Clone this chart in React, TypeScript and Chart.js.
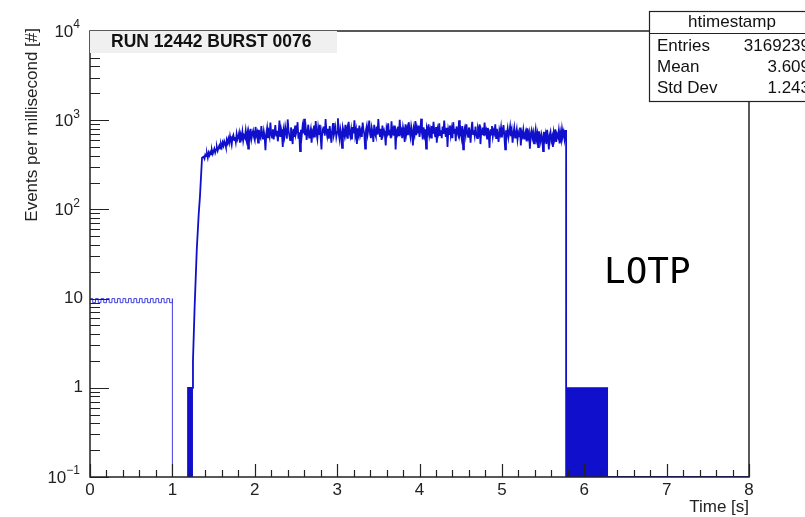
import React, { useEffect, useRef } from "react";
import { Chart, registerables } from "chart.js";

Chart.register(...registerables);

// ---- data ----
const X_TICK_VALUES = [0, 1, 2, 3, 4, 5, 6, 7, 8];
const X_TICK_LABELS = ["0", "1", "2", "3", "4", "5", "6", "7", "8"];
const Y_TICK_VALUES = [0.1, 1, 10, 100, 1000, 10000];
const Y_TICK_BASE = ["10", "1", "10", "10", "10", "10"];
const Y_TICK_EXP = ["\u22121", "", "", "2", "3", "4"];

// 0 - 1 s: bins alternating (events per ms)
const LOW_BIN_WIDTH = 1 / 30;
const LOW_VALUES = [10, 9, 10, 9, 10, 9, 10, 9, 10, 9, 10, 9, 10, 9, 10, 9, 10, 9, 10, 9, 10, 9, 10, 9, 10, 9, 10, 9, 10, 9];

// rise of the spill
const RISE_T = [1.19, 1.19, 1.25, 1.25, 1.27, 1.296, 1.32, 1.335, 1.36];
const RISE_V = [0.1, 1, 1, 2, 8, 35, 90, 140, 380];

// plateau, 1.38 s ... 5.77 s in 0.01 s bins
const PLATEAU_START = 1.38;
const PLATEAU_STEP = 0.01;
const PLATEAU_V = [
  390, 370, 410, 395, 420, 380, 430, 405, 440, 415,
  460, 420, 450, 480, 435, 470, 500, 455, 490, 520,
  480, 540, 500, 560, 520, 580, 545, 500, 600, 555,
  620, 560, 660, 590, 530, 640, 680, 600, 650, 570,
  700, 610, 650, 720, 560, 690, 630, 740, 590, 670,
  640, 760, 610, 700, 480, 720, 650, 800, 620, 700,
  760, 650, 600, 840, 680, 730, 560, 780, 660, 630,
  860, 690, 610, 750, 650, 460, 710, 820, 630, 740,
  660, 940, 700, 640, 790, 610, 730, 880, 670, 760,
  580, 720, 990, 650, 790, 700, 500, 760, 660, 840,
  730, 620, 1020, 770, 670, 600, 830, 700, 540, 800,
  650, 870, 700, 760, 950, 620, 730, 450, 780, 670,
  840, 710, 1040, 680, 790, 600, 740, 890, 640, 700,
  790, 560, 740, 690, 870, 640, 980, 720, 620, 820,
  700, 890, 650, 470, 780, 730, 850, 670, 1030, 750,
  660, 800, 620, 860, 700, 560, 760, 930, 680, 740,
  830, 650, 740, 1050, 700, 610, 800, 720, 490, 820,
  750, 670, 890, 700, 790, 620, 960, 730, 660, 780,
  610, 840, 710, 1000, 680, 770, 540, 810, 700, 870,
  680, 750, 650, 940, 780, 700, 480, 770, 860, 690,
  800, 990, 700, 630, 820, 730, 570, 890, 710, 660,
  850, 690, 1030, 750, 650, 800, 600, 870, 700, 760,
  680, 520, 810, 730, 920, 690, 780, 630, 970, 720,
  790, 670, 870, 470, 750, 700, 850, 660, 1010, 720,
  770, 630, 830, 730, 570, 900, 700, 800, 680, 950,
  740, 650, 850, 750, 520, 790, 700, 980, 680, 810,
  710, 870, 650, 770, 1040, 720, 610, 830, 690, 790,
  480, 800, 730, 900, 680, 770, 640, 860, 700, 960,
  750, 660, 840, 560, 790, 720, 920, 680, 770, 630,
  850, 700, 990, 740, 650, 820, 500, 780, 700, 870,
  680, 790, 630, 950, 720, 800, 580, 850, 730, 680,
  1000, 700, 770, 650, 860, 470, 750, 820, 690, 900,
  720, 650, 830, 740, 560, 790, 960, 700, 770, 670,
  850, 690, 630, 800, 730, 900, 540, 760, 700, 830,
  670, 940, 720, 770, 620, 820, 700, 490, 790, 690,
  860, 660, 760, 710, 900, 630, 800, 680, 570, 770,
  700, 830, 640, 740, 880, 670, 470, 770, 690, 800,
  640, 730, 850, 660, 760, 560, 710, 820, 640, 700,
  790, 610, 720, 660, 830, 520, 730, 670, 780, 620,
  690, 750, 580, 810, 650, 720, 480, 700, 770, 640,
  720, 550, 680, 790, 620, 700, 500, 750, 650, 580,
  700, 640, 450, 740, 610, 690, 540, 780, 640, 470,
  680, 740, 590, 650, 500, 720, 630, 790, 570, 690,
  650, 760, 550, 710, 610, 790, 670, 740, 620, 760,
];

// end of spill and tail
const FALL_T = [5.78, 5.78, 8];
const FALL_V = [760, 0.1, 0.1];

// filled single-count bins
const BAR1_T = [1.19, 1.25];
const BAR1_V = [1, 1];
const BAR2_T = [5.78, 6.29];
const BAR2_V = [1, 1];

const STATS_NAMES = ["Entries", "Mean", "Std Dev"];
const STATS_VALUES = ["3169239", "3.609", "1.243"];

const FONT = "'Liberation Sans', Arial, Helvetica, sans-serif";
const BLUE = "#0f0fcc";

const decorPlugin = {
  id: "rootDecor",
  afterDraw(chart: any) {
    const ctx = chart.ctx as CanvasRenderingContext2D;
    const xs = chart.scales.x;
    const ys = chart.scales.y;
    const { left, right, top, bottom } = chart.chartArea;
    ctx.save();

    // ticks
    ctx.strokeStyle = "#222";
    ctx.lineWidth = 1.2;
    ctx.beginPath();
    for (let v = 0; v <= 8.001; v += 0.2) {
      const px = Math.round(xs.getPixelForValue(v)) + 0.5;
      const major = Math.abs(v - Math.round(v)) < 1e-6;
      ctx.moveTo(px, bottom);
      ctx.lineTo(px, bottom - (major ? 13 : 7));
    }
    for (let d = -1; d <= 4; d++) {
      const py = Math.round(ys.getPixelForValue(Math.pow(10, d))) + 0.5;
      ctx.moveTo(left, py);
      ctx.lineTo(left + 19, py);
      if (d < 4) {
        for (let m = 2; m <= 9; m++) {
          const pm = Math.round(ys.getPixelForValue(m * Math.pow(10, d))) + 0.5;
          ctx.moveTo(left, pm);
          ctx.lineTo(left + 10, pm);
        }
      }
    }
    ctx.stroke();

    // frame
    ctx.lineWidth = 1.5;
    ctx.strokeStyle = "#222";
    ctx.strokeRect(left, top, right - left, bottom - top);

    // x labels
    ctx.fillStyle = "#222";
    ctx.font = `17px ${FONT}`;
    ctx.textAlign = "center";
    ctx.textBaseline = "middle";
    X_TICK_VALUES.forEach((v, i) => {
      ctx.fillText(X_TICK_LABELS[i], xs.getPixelForValue(v), bottom + 13);
    });

    // y labels
    Y_TICK_VALUES.forEach((v, i) => {
      const py = ys.getPixelForValue(v);
      const exp = Y_TICK_EXP[i];
      ctx.textBaseline = "middle";
      ctx.textAlign = "right";
      if (exp) {
        const xr = 80;
        ctx.font = `12px ${FONT}`;
        const ew = ctx.measureText(exp).width;
        ctx.fillText(exp, xr, py - 6);
        ctx.font = `17px ${FONT}`;
        ctx.fillText(Y_TICK_BASE[i], xr - ew, py + 1);
      } else {
        ctx.font = `17px ${FONT}`;
        ctx.fillText(Y_TICK_BASE[i], 83, py);
      }
    });

    // axis titles
    ctx.font = `17px ${FONT}`;
    ctx.textAlign = "right";
    ctx.textBaseline = "middle";
    ctx.fillText("Time [s]", right, 507);
    ctx.save();
    ctx.translate(32, top - 3);
    ctx.rotate(-Math.PI / 2);
    ctx.textAlign = "right";
    ctx.fillText("Events per millisecond [#]", 0, 0);
    ctx.restore();

    // title box
    ctx.fillStyle = "#f0f0f0";
    ctx.fillRect(left, top, 247, 22);
    ctx.fillStyle = "#111";
    ctx.font = `bold 17.5px ${FONT}`;
    ctx.textAlign = "left";
    ctx.fillText("RUN 12442 BURST 0076", left + 21, top + 11);

    // stats box
    const sx = 649, sy = 11, sw = 170, sh = 90;
    ctx.fillStyle = "#fff";
    ctx.fillRect(sx, sy, sw, sh);
    ctx.strokeStyle = "#222";
    ctx.lineWidth = 1.2;
    ctx.strokeRect(sx + 0.5, sy + 0.5, sw, sh);
    ctx.beginPath();
    ctx.moveTo(sx, 33.5);
    ctx.lineTo(sx + sw, 33.5);
    ctx.stroke();
    ctx.fillStyle = "#111";
    ctx.font = `17px ${FONT}`;
    ctx.textAlign = "center";
    ctx.fillText("htimestamp", 732, 22);
    STATS_NAMES.forEach((n, i) => {
      const yy = 46 + i * 21;
      ctx.textAlign = "left";
      ctx.fillText(n, 657, yy);
      ctx.textAlign = "right";
      ctx.fillText(STATS_VALUES[i], 810, yy);
    });

    // annotation
    ctx.fillStyle = "#000";
    ctx.font = `36px 'DejaVu Sans Mono', monospace`;
    ctx.textAlign = "left";
    ctx.textBaseline = "middle";
    ctx.fillText("LOTP", 604, 274);

    ctx.restore();
  },
};

export default function App() {
  const ref = useRef<HTMLCanvasElement | null>(null);
  useEffect(() => {
    if (!ref.current) return;
    const lowPts = LOW_VALUES.map((v, i) => ({ x: i * LOW_BIN_WIDTH, y: v }));
    lowPts.push({ x: 1, y: 10 });
    lowPts.push({ x: 1, y: 0.1 });

    const mainPts: { x: number; y: number }[] = [];
    RISE_T.forEach((t, i) => mainPts.push({ x: t, y: RISE_V[i] }));
    PLATEAU_V.forEach((v, i) => mainPts.push({ x: PLATEAU_START + i * PLATEAU_STEP, y: v }));
    FALL_T.forEach((t, i) => mainPts.push({ x: t, y: FALL_V[i] }));

    const chart = new Chart(ref.current, {
      type: "line",
      data: {
        datasets: [
          {
            data: lowPts,
            borderColor: "#4040e0",
            borderWidth: 1,
            pointRadius: 0,
            stepped: true,
            fill: false,
          } as any,
          {
            data: mainPts,
            borderColor: BLUE,
            borderWidth: 1.8,
            pointRadius: 0,
            tension: 0,
            fill: false,
          },
          {
            data: BAR1_T.map((t, i) => ({ x: t, y: BAR1_V[i] })),
            borderColor: BLUE,
            backgroundColor: BLUE,
            borderWidth: 1,
            pointRadius: 0,
            fill: "start",
          },
          {
            data: BAR2_T.map((t, i) => ({ x: t, y: BAR2_V[i] })),
            borderColor: BLUE,
            backgroundColor: BLUE,
            borderWidth: 1,
            pointRadius: 0,
            fill: "start",
          },
        ],
      },
      options: {
        animation: false,
        responsive: false,
        devicePixelRatio: 1,
        layout: { padding: { left: 90, right: 56, top: 31, bottom: 40 } },
        plugins: { legend: { display: false }, tooltip: { enabled: false } },
        scales: {
          x: { type: "linear", min: 0, max: 8, display: false },
          y: { type: "logarithmic", min: 0.1, max: 10000, display: false },
        },
      },
      plugins: [decorPlugin],
    });
    return () => chart.destroy();
  }, []);

  return (
    <div style={{ position: "absolute", left: 0, top: 0, width: 805, height: 517, background: "#fff" }}>
      <canvas ref={ref} width={805} height={517} style={{ display: "block" }} />
    </div>
  );
}
